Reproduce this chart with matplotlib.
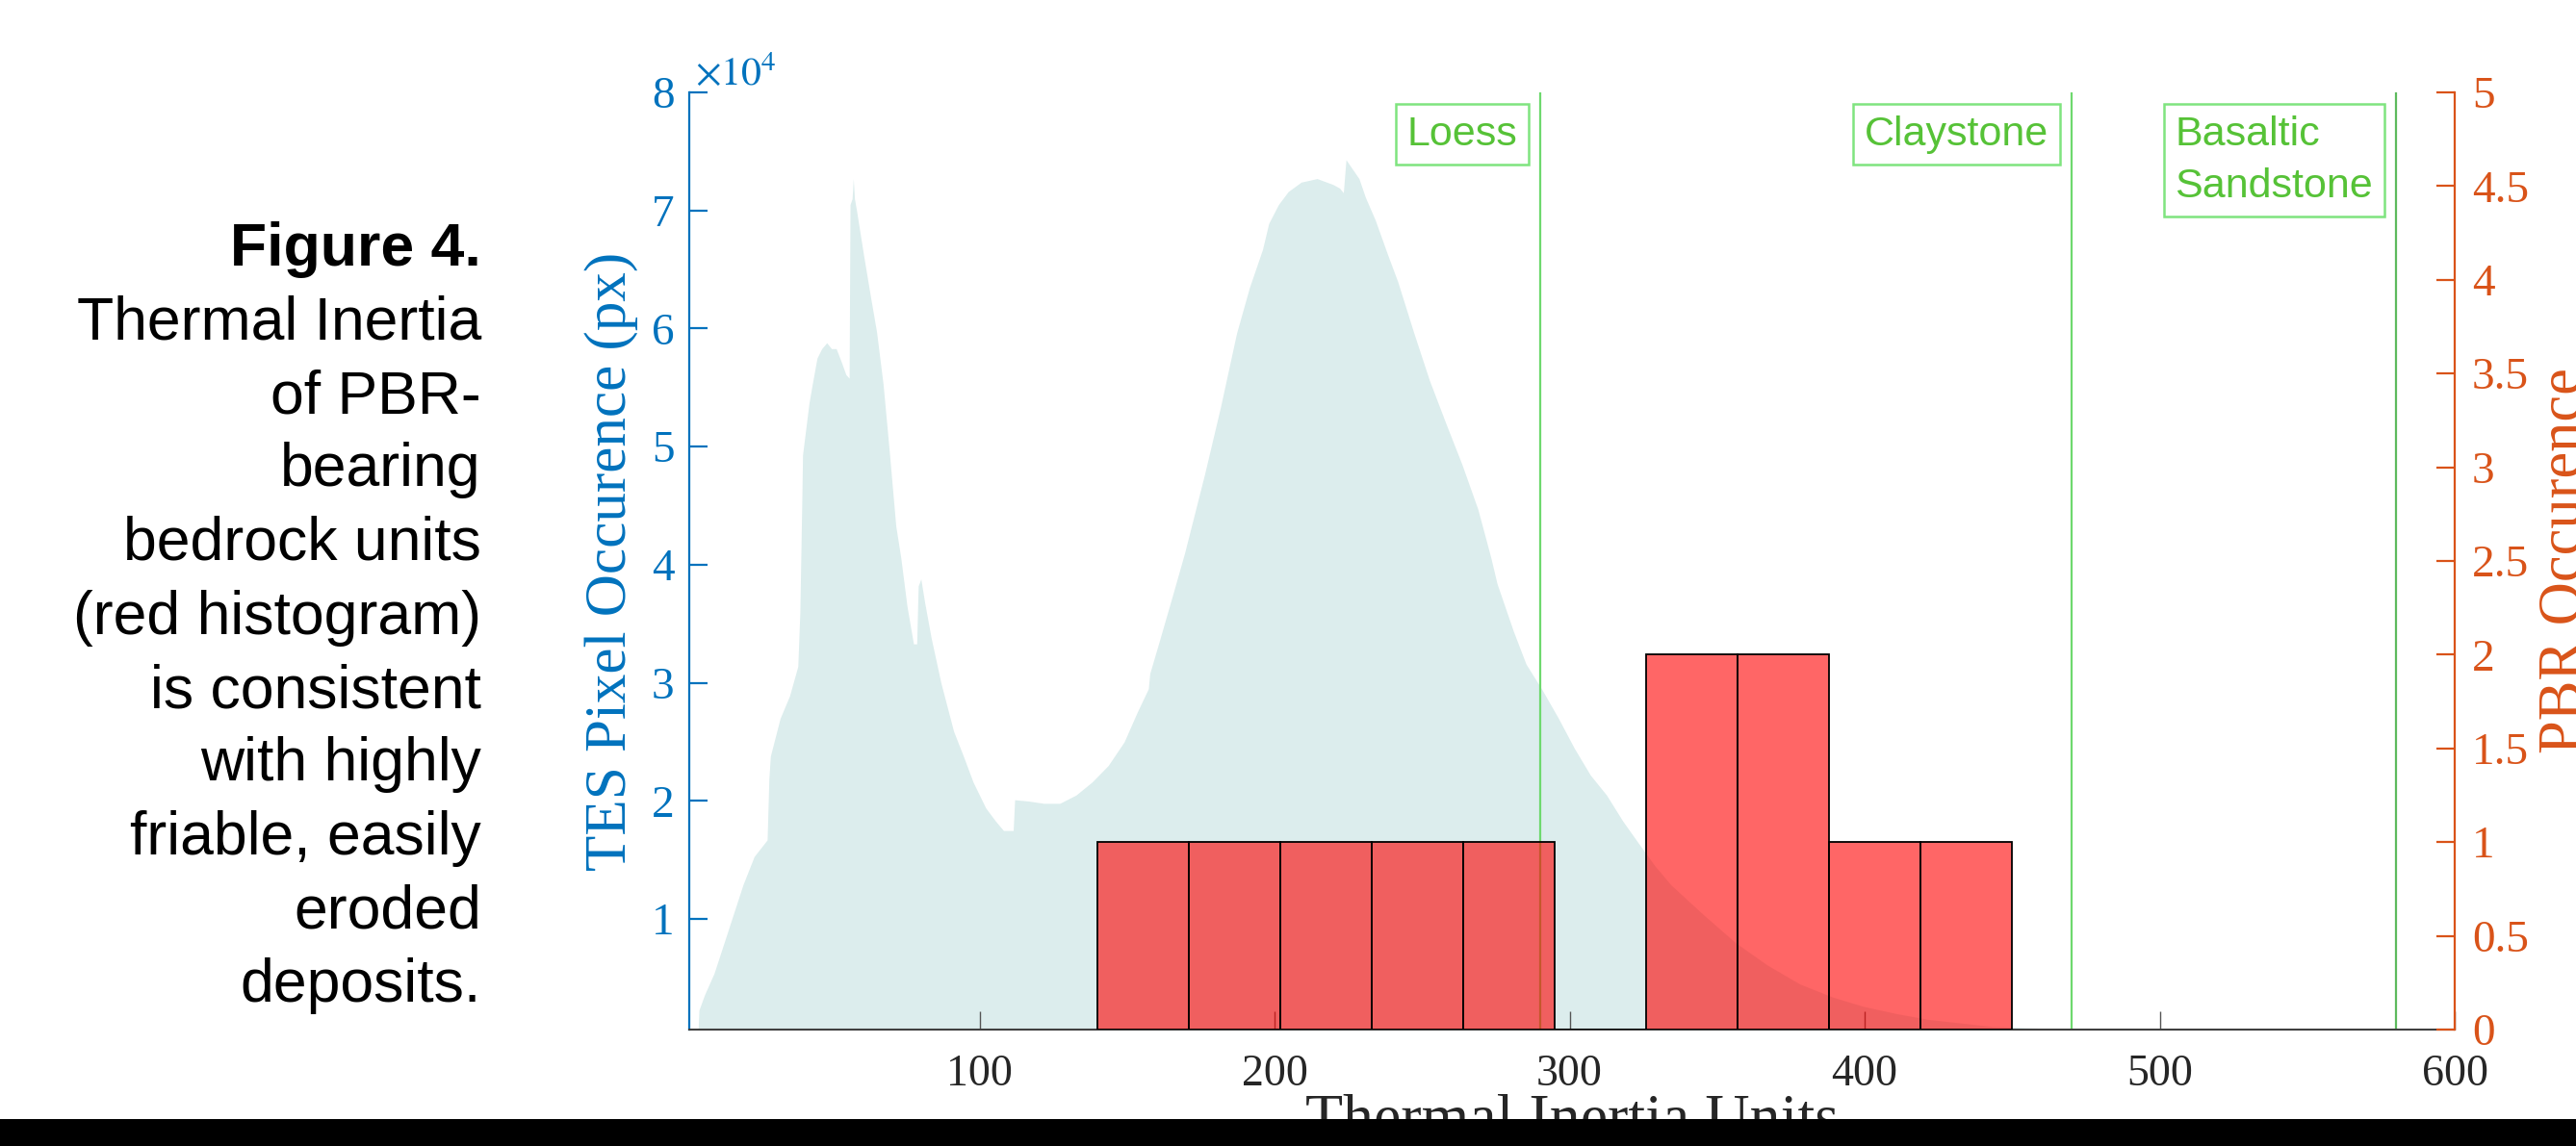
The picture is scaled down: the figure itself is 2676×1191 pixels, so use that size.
import matplotlib
matplotlib.use('Agg')
import matplotlib.pyplot as plt
from matplotlib.patches import Rectangle
from matplotlib.transforms import blended_transform_factory

# TES pixel histogram outline
# x: thermal inertia units, y: pixel occurrence in units of 1e4
tes_ti = [4.5, 4.9, 6.8, 10.0, 13.8, 19.8, 23.6, 28.0, 28.6, 29.1, 32.4, 35.6, 38.4, 39.1,
          39.8, 40.0, 41.1, 42.2, 43.3, 44.9, 46.5, 48.2, 49.8, 51.4, 53.1, 54.7, 55.8,
          56.1, 56.8, 57.2, 57.6, 58.3, 60.7, 62.9, 65.1, 67.3, 69.4, 71.6, 73.3, 75.4,
          77.6, 78.7, 79.2, 80.1, 81.4, 83.6, 86.9, 91.2, 94.5, 97.8, 102.1, 105.4, 108.1,
          111.4, 111.9, 116.3, 121.7, 127.2, 132.7, 138.1, 143.6, 149.0, 153.4, 157.2,
          157.7, 161.0, 165.4, 169.5, 176.3, 181.7, 187.1, 191.5, 195.9, 198.0, 201.3,
          204.6, 209.0, 214.4, 219.8, 222.0, 223.3, 224.2, 226.4, 228.6, 230.8, 234.1,
          238.4, 241.7, 247.1, 252.5, 258.0, 263.5, 268.9, 273.3, 275.4, 280.9, 285.2,
          290.7, 296.2, 301.5, 307.0, 312.5, 318.0, 323.4, 328.9, 334.3, 345.2, 356.2,
          367.0, 378.0, 389.0, 399.6, 410.6, 421.5, 432.4, 443.3, 454.2, 466.0, 480.0, 486.0]
tes_count_e4 = [0.0, 0.23, 0.36, 0.54, 0.83, 1.29, 1.53, 1.67, 2.19, 2.38, 2.70, 2.89, 3.14, 3.60,
                4.60, 4.93, 5.15, 5.37, 5.53, 5.75, 5.83, 5.88, 5.83, 5.83, 5.72, 5.61, 5.58,
                7.05, 7.10, 7.27, 7.10, 7.00, 6.62, 6.29, 5.97, 5.53, 4.96, 4.33, 4.06, 3.65,
                3.33, 3.33, 3.82, 3.88, 3.68, 3.38, 3.00, 2.59, 2.38, 2.16, 1.94, 1.83, 1.75,
                1.75, 2.01, 2.00, 1.98, 1.98, 2.05, 2.16, 2.30, 2.50, 2.75, 2.95,
                3.08, 3.36, 3.74, 4.10, 4.77, 5.34, 5.96, 6.35, 6.67, 6.89, 7.05,
                7.16, 7.24, 7.27, 7.22, 7.19, 7.15, 7.43, 7.35, 7.27, 7.11, 6.92,
                6.62, 6.40, 5.97, 5.56, 5.20, 4.85, 4.47, 4.06, 3.84, 3.44, 3.16,
                2.94, 2.70, 2.45, 2.22, 2.05, 1.83, 1.64, 1.45, 1.29, 1.04, 0.80,
                0.61, 0.45, 0.34, 0.26, 0.20, 0.15, 0.12, 0.09, 0.08, 0.07, 0.068, 0.0]

# PBR histogram (right axis)
pbr_edges = [140, 171, 202, 233, 264, 295, 326, 357, 388, 419, 450]
pbr_counts = [1, 1, 1, 1, 1, 0, 2, 2, 1, 1]

# reference rock types
rock_names = ['Loess', 'Claystone', 'Basaltic\nSandstone']
rock_ti = [290, 470, 580]
rock_line_colors = ['#6ED96E', '#6ED96E', '#5DBA5D']

left_ticks = [1, 2, 3, 4, 5, 6, 7, 8]
right_ticks = [0, 0.5, 1, 1.5, 2, 2.5, 3, 3.5, 4, 4.5, 5]
right_ticklabels = ['0', '0.5', '1', '1.5', '2', '2.5', '3', '3.5', '4', '4.5', '5']
x_ticks = [100, 200, 300, 400, 500, 600]

caption = ['Figure 4.', 'Thermal Inertia', 'of PBR-', 'bearing', 'bedrock units',
           '(red histogram)', 'is consistent', 'with highly', 'friable, easily',
           'eroded', 'deposits.']

BLUE = '#0072BD'
ORANGE = '#D95319'
SERIF = 'Liberation Serif'
SANS = 'Liberation Sans'

W, H = 2676, 1191
fig = plt.figure(figsize=(W / 100, H / 100), dpi=100)
ax = fig.add_axes([716 / W, (H - 1070) / H, (2550 - 716) / W, (1070 - 96) / H])

# TES pixel histogram as a filled area
ax.fill_between(tes_ti, 0, tes_count_e4, color='#DCEDED', lw=0, zorder=1)

# rock type lines and boxed labels
trans = blended_transform_factory(ax.transData, ax.transAxes)
for name, ti, lc in zip(rock_names, rock_ti, rock_line_colors):
    ax.axvline(ti, color=lc, lw=1.6, zorder=2)
    ax.annotate(name, xy=(ti, 1.0), xycoords=trans, xytext=(-17, -17),
                textcoords='offset points', ha='right', va='top', multialignment='left',
                family=SANS, fontsize=31, color='#56C237', linespacing=1.45,
                bbox=dict(boxstyle='square,pad=0.27', fc='white', ec='#7FE47F', lw=1.8),
                zorder=3)

ax.set_xlim(1.6, 600)
ax.set_ylim(0.064, 8)
ax.set_xticks(x_ticks)
ax.set_xticklabels([str(t) for t in x_ticks], family=SERIF, fontsize=33, color='#262626')
ax.set_yticks(left_ticks)
ax.set_yticklabels([str(t) for t in left_ticks], family=SERIF, fontsize=34, color=BLUE)
ax.tick_params(axis='x', direction='in', length=13.5, width=1.0, color='#555555', pad=18)
ax.tick_params(axis='y', direction='in', length=13.5, width=1.6, color=BLUE, pad=11)
ax.spines['top'].set_visible(False)
ax.spines['right'].set_visible(False)
ax.spines['left'].set_color(BLUE)
ax.spines['left'].set_linewidth(1.6)
ax.spines['bottom'].set_color('#404040')
ax.spines['bottom'].set_linewidth(1.5)
ax.patch.set_visible(False)

ax.set_ylabel('TES Pixel Occurence (px)', family=SERIF, fontsize=44, color=BLUE)
ax.yaxis.set_label_coords(-0.029, 0.5)
ax.set_xlabel('Thermal Inertia Units', family=SERIF, fontsize=46, color='#262626')
ax.xaxis.set_label_coords(0.5, -0.068)

fig.text(722 / W, (H - 88) / H, r'$\times10^{4}$', fontsize=30, color=BLUE,
         math_fontfamily='stix', ha='left', va='baseline')

# PBR histogram on the right axis
ax2 = ax.twinx()
ax2.bar(pbr_edges[:-1], pbr_counts, width=[b - a for a, b in zip(pbr_edges[:-1], pbr_edges[1:])],
        align='edge', facecolor=(1, 0, 0, 0.6), edgecolor='black', lw=1.3, zorder=4)
ax2.set_ylim(0, 5)
ax2.set_yticks(right_ticks)
ax2.set_yticklabels(right_ticklabels, family=SERIF, fontsize=34, color=ORANGE)
ax2.tick_params(axis='y', direction='in', length=13.5, width=1.6, color=ORANGE, pad=13)
for s in ['top', 'left', 'bottom']:
    ax2.spines[s].set_visible(False)
ax2.spines['right'].set_color(ORANGE)
ax2.spines['right'].set_linewidth(1.6)
ax2.set_ylabel('PBR Occurence', family=SERIF, fontsize=45, color=ORANGE)
ax2.yaxis.set_label_coords(1.047, 0.5)

# caption on the left, right aligned
for i, line in enumerate(caption):
    fig.text(500 / W, (H - 276 - i * 76.5) / H, line, family=SANS, fontsize=45,
             fontweight='bold' if i == 0 else 'normal', ha='right', va='baseline')

# black strip along the bottom edge
fig.patches.append(Rectangle((0, 0), 1, 28 / H, transform=fig.transFigure,
                             facecolor='black', edgecolor='none', zorder=10))

fig.savefig('out.png', dpi=100)
